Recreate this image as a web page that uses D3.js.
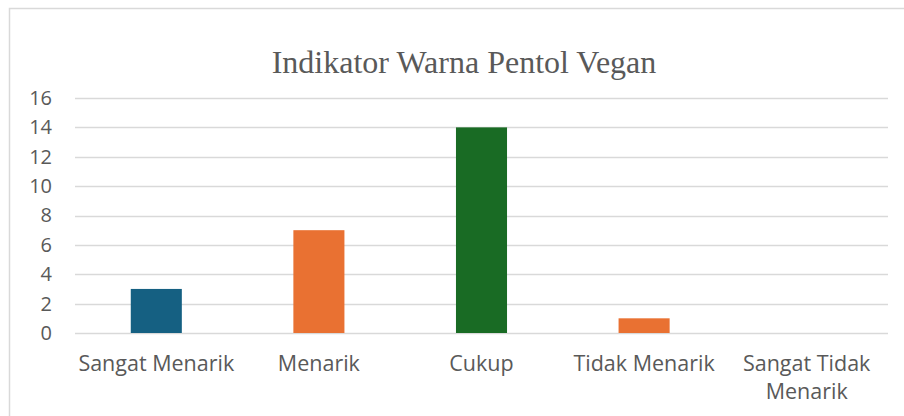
<!DOCTYPE html>
<html>
<head>
<meta charset="utf-8">
<script src="https://cdn.jsdelivr.net/npm/d3@7"></script>
<style>
  body { margin: 0; background: #fff; }
  svg { display: block; }
</style>
</head>
<body>
<script>
// chart data
const categories = ["Sangat Menarik", "Menarik", "Cukup", "Tidak Menarik", "Sangat Tidak Menarik"];
const values = [3, 7, 14, 1, 0];
const barColors = ["#156082", "#e97132", "#196b24", "#e97132", "#0f9ed5"];
const yTicks = [0, 2, 4, 6, 8, 10, 12, 14, 16];
const title = "Indikator Warna Pentol Vegan";

// canvas size
const width = 904;
const height = 416;
const margin = { top: 98, right: 16, bottom: 83, left: 75 };

const svg = d3
  .select("body")
  .append("svg")
  .attr("width", width)
  .attr("height", height);

// chart border (runs past the right and bottom edge)
svg
  .append("rect")
  .attr("x", 9.5)
  .attr("y", 8.5)
  .attr("width", width + 20)
  .attr("height", height + 20)
  .attr("fill", "#fff")
  .attr("stroke", "#d9d9d9")
  .attr("stroke-width", 1.5);

// title
svg
  .append("text")
  .attr("x", 464)
  .attr("y", 73)
  .attr("text-anchor", "middle")
  .style("font-family", "'Liberation Serif', 'Times New Roman', serif")
  .style("font-size", "32px")
  .style("fill", "#595959")
  .text(title);

// scales
const xScale = d3
  .scaleBand()
  .domain(categories)
  .range([margin.left, width - margin.right])
  .paddingInner(0.686)
  .paddingOuter(0.343);

const yScale = d3
  .scaleLinear()
  .domain([0, 16])
  .range([height - margin.bottom, margin.top]);

// gridlines
svg
  .append("g")
  .selectAll("line")
  .data(yTicks)
  .enter()
  .append("line")
  .attr("x1", margin.left)
  .attr("x2", width - margin.right)
  .attr("y1", (d) => Math.round(yScale(d)) + 0.5)
  .attr("y2", (d) => Math.round(yScale(d)) + 0.5)
  .attr("stroke", "#d9d9d9")
  .attr("stroke-width", 1.5);

// y axis labels
const yAxis = d3.axisLeft(yScale).tickValues(yTicks).tickSize(0).tickPadding(0);
const yG = svg
  .append("g")
  .attr("transform", "translate(52,0)")
  .call(yAxis);
yG.select(".domain").remove();
yG.selectAll("text")
  .style("font-family", "'Open Sans', sans-serif")
  .style("font-size", "20px")
  .style("fill", "#595959");

// bars
svg
  .selectAll("rect.bar")
  .data(values)
  .enter()
  .append("rect")
  .attr("class", "bar")
  .attr("x", (d, i) => xScale(categories[i]))
  .attr("y", (d) => yScale(d))
  .attr("width", xScale.bandwidth())
  .attr("height", (d) => yScale(0) - yScale(d))
  .attr("fill", (d, i) => barColors[i]);

// x axis labels, wrapped when too wide
const labels = svg
  .append("g")
  .selectAll("text")
  .data(categories)
  .enter()
  .append("text")
  .attr("x", (d) => xScale(d) + xScale.bandwidth() / 2)
  .attr("y", 371)
  .attr("text-anchor", "middle")
  .style("font-family", "'Open Sans', sans-serif")
  .style("font-size", "21.5px")
  .style("fill", "#595959");

labels.each(function (d) {
  const el = d3.select(this);
  const words = d.split(" ");
  let lines = [d];
  if (words.length > 2) {
    lines = [words.slice(0, 2).join(" "), words.slice(2).join(" ")];
  }
  lines.forEach((line, i) => {
    el.append("tspan")
      .attr("x", el.attr("x"))
      .attr("dy", i === 0 ? 0 : 28)
      .text(line);
  });
});
</script>
</body>
</html>
